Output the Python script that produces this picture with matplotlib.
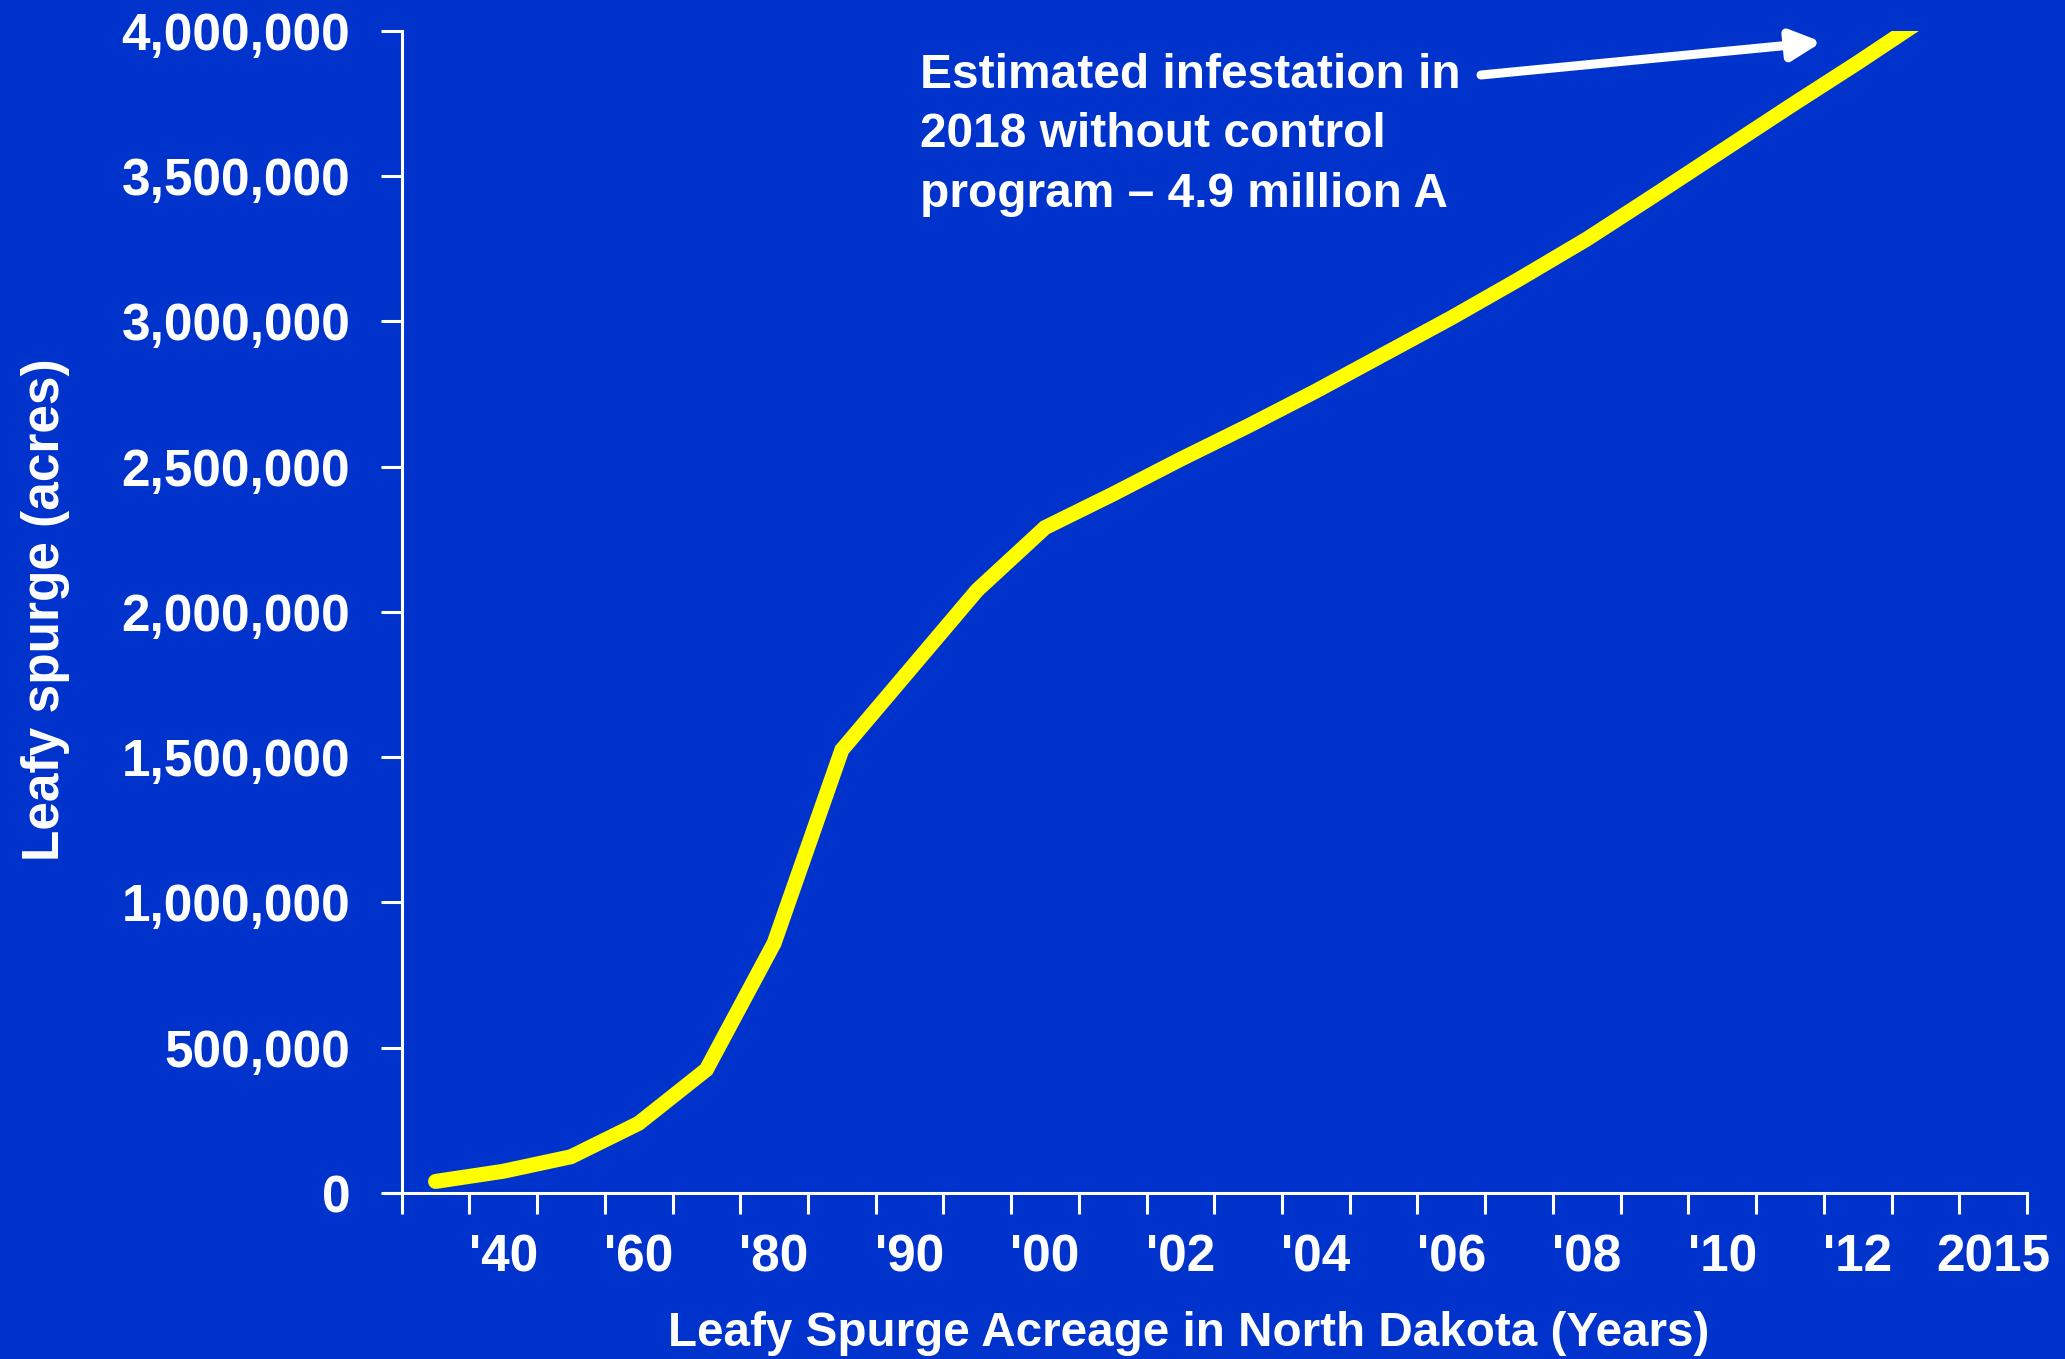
import numpy as np
import matplotlib
matplotlib.use("Agg")
from matplotlib import pyplot as plt
from matplotlib.ticker import FuncFormatter

# Leafy spurge infestation in North Dakota (acres)
year_labels = ["", "'40", "", "'60", "", "'80", "", "'90", "", "'00", "", "'02",
               "", "'04", "", "'06", "", "'08", "", "'10", "", "'12", "", "2015"]
acres = [40000, 75000, 125000, 240000, 425000, 860000, 1525000, 1800000,
         2075000, 2290000, 2405000, 2525000, 2640000, 2760000, 2886000,
         3012000, 3145000, 3283000, 3434000, 3587000, 3740000, 3890000, 4045000]
y_ticks = np.arange(0, 4000001, 500000)

BG = "#0033CC"
FONT = ["Liberation Sans", "DejaVu Sans"]
plt.rcParams["font.family"] = FONT
plt.rcParams["font.weight"] = "bold"

fig = plt.figure(figsize=(20.65, 13.59), dpi=100, facecolor=BG)
ax = fig.add_axes([0.1945, 0.1221, 0.9816 - 0.1945, 0.9774 - 0.1221])
ax.set_facecolor(BG)

x = np.arange(len(acres))
ax.plot(x, acres, color="#FFFF00", lw=10.8, solid_capstyle="round",
        solid_joinstyle="miter")

ax.set_xlim(-0.5, len(year_labels) - 0.5)
ax.set_ylim(0, 4000000)

# tick marks sit between categories, labels in the middle
ax.set_xticks(np.arange(-0.5, len(year_labels), 1))
ax.set_xticklabels([])
ax.set_xticks(np.arange(len(year_labels)), minor=True)
ax.set_xticklabels(year_labels, minor=True)
ax.tick_params(axis="x", which="major", length=15, width=2.2, color="white",
               direction="out")
ax.tick_params(axis="x", which="minor", length=0, pad=29, labelsize=37,
               labelcolor="white")

ax.set_yticks(y_ticks)
ax.yaxis.set_major_formatter(FuncFormatter(lambda v, p: f"{v:,.0f}"))
ax.tick_params(axis="y", length=15, width=2.2, color="white", pad=22,
               labelsize=37, labelcolor="white")

for side in ["top", "right"]:
    ax.spines[side].set_visible(False)
for side in ["left", "bottom"]:
    ax.spines[side].set_color("white")
    ax.spines[side].set_linewidth(2.2)
ax.spines["bottom"].set_bounds(-0.5 - 0.23, len(year_labels) - 0.5)

fig.text(46 / 2065, 1 - 610 / 1359, "Leafy spurge (acres)", rotation=90,
         ha="center", va="center", fontsize=37, color="white",
         fontweight="bold")
fig.text(1189 / 2065, 1 - 1333 / 1359,
         "Leafy Spurge Acreage in North Dakota (Years)", ha="center",
         va="center", fontsize=34.3, color="white", fontweight="bold")

fig.text(920 / 2065, 1 - 53 / 1359,
         "Estimated infestation in\n2018 without control\nprogram \u2013 4.9 million A",
         ha="left", va="top", fontsize=34.5, color="white", fontweight="bold",
         linespacing=1.41)
ax.annotate("", xy=(1822 / 2065, 1 - 42 / 1359), xycoords="figure fraction",
            xytext=(1481 / 2065, 1 - 75 / 1359), textcoords="figure fraction",
            arrowprops=dict(arrowstyle="-|>,head_length=0.9,head_width=0.45",
                            mutation_scale=20, lw=6.5, color="white",
                            shrinkA=0, shrinkB=0))

fig.savefig("out.png", dpi=100, facecolor=BG)
